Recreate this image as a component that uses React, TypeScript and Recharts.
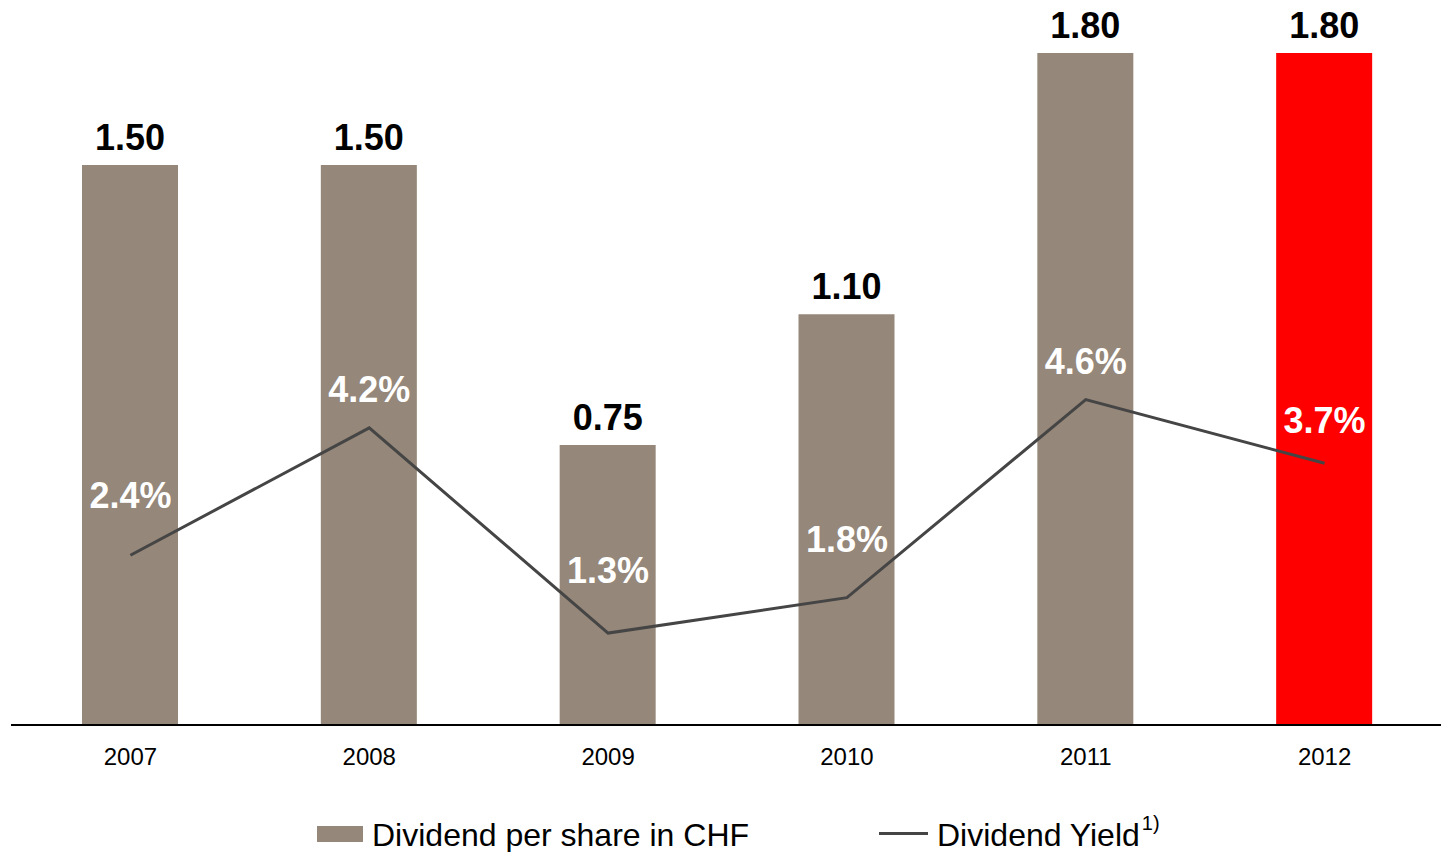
import React from "react";
import { ComposedChart, Bar, Line, XAxis, YAxis, Cell, LabelList } from "recharts";

const years = ["2007", "2008", "2009", "2010", "2011", "2012"];
const dividendPerShare = [1.5, 1.5, 0.75, 1.1, 1.8, 1.8];
const dividendYield = [2.4, 4.2, 1.3, 1.8, 4.6, 3.7];
const highlightYear = "2012";

const data = years.map((year, i) => ({
  year,
  dps: dividendPerShare[i],
  yld: dividendYield[i],
}));

const FONT = '"Liberation Sans", Arial, Helvetica, sans-serif';
const BAR_GREY = "#958779";
const HIGHLIGHT_RED = "#ff0000";
const LINE_GREY = "#454545";

// the yield labels were nudged by hand in the original slide
const yieldLabelLift = [47, 26, 50, 46, 26, 30];

const BarValueLabel = (props: any) => {
  const { x, y, width, value } = props;
  return (
    <text
      x={x + width / 2}
      y={y - 15}
      textAnchor="middle"
      fill="#000"
      fontFamily={FONT}
      fontWeight="bold"
      fontSize={36}
    >
      {Number(value).toFixed(2)}
    </text>
  );
};

const YieldLabel = (props: any) => {
  const { x, y, value, index } = props;
  const lift = yieldLabelLift[index] ?? 36;
  return (
    <text
      x={x}
      y={y - lift}
      textAnchor="middle"
      fill="#fff"
      fontFamily={FONT}
      fontWeight="bold"
      fontSize={36}
    >
      {Number(value).toFixed(1)}%
    </text>
  );
};

const legendText: React.CSSProperties = {
  position: "absolute",
  top: 819,
  fontFamily: FONT,
  fontSize: 32,
  lineHeight: "32px",
  color: "#000",
  whiteSpace: "nowrap",
};

const LegendRow = () => (
  <>
    <div
      style={{
        position: "absolute",
        left: 317,
        top: 826,
        width: 46,
        height: 16,
        background: BAR_GREY,
      }}
    />
    <div style={{ ...legendText, left: 372 }}>Dividend per share in CHF</div>
    <div
      style={{
        position: "absolute",
        left: 879,
        top: 832,
        width: 49,
        height: 3,
        background: LINE_GREY,
      }}
    />
    <div style={{ ...legendText, left: 937 }}>
      Dividend Yield
      <span style={{ fontSize: 20, position: "relative", top: -16, marginLeft: 2 }}>1)</span>
    </div>
  </>
);

export default function App() {
  return (
    <div
      style={{
        position: "absolute",
        left: 0,
        top: 0,
        width: 1441,
        height: 852,
        background: "#fff",
        overflow: "hidden",
      }}
    >
      <ComposedChart
        width={1441}
        height={852}
        data={data}
        margin={{ top: 53, right: -3, left: 11, bottom: 87 }}
      >
        <XAxis
          dataKey="year"
          height={40}
          interval={0}
          tickLine={false}
          tickSize={0}
          tickMargin={23}
          axisLine={{ stroke: "#000", strokeWidth: 2 }}
          tick={{ fill: "#000", fontSize: 24, fontFamily: FONT }}
        />
        <YAxis yAxisId="dps" hide domain={[0, 1.8]} />
        <YAxis yAxisId="yld" hide orientation="right" domain={[0, 9.5]} />
        <Bar yAxisId="dps" dataKey="dps" barSize={96} isAnimationActive={false}>
          {data.map((d) => (
            <Cell key={d.year} fill={d.year === highlightYear ? HIGHLIGHT_RED : BAR_GREY} />
          ))}
          <LabelList dataKey="dps" content={BarValueLabel} />
        </Bar>
        <Line
          yAxisId="yld"
          dataKey="yld"
          type="linear"
          stroke={LINE_GREY}
          strokeWidth={3}
          dot={false}
          activeDot={false}
          isAnimationActive={false}
        >
          <LabelList dataKey="yld" content={YieldLabel} />
        </Line>
      </ComposedChart>
      <LegendRow />
    </div>
  );
}
